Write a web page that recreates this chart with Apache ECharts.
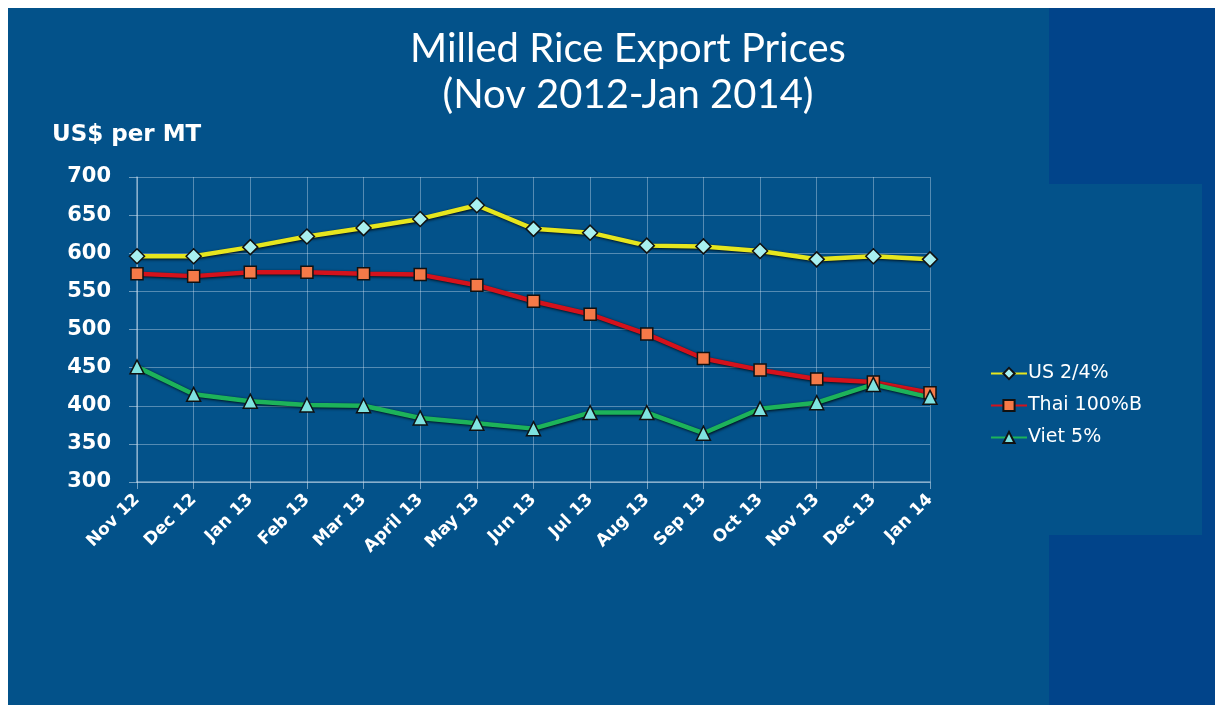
<!DOCTYPE html>
<html><head><meta charset="utf-8">
<script src="https://cdn.jsdelivr.net/npm/echarts@6/dist/echarts.min.js"></script>
<style>html,body{margin:0;padding:0;background:#fff;}#c{width:1215px;height:706px;}</style>
</head><body><div id="c"></div>
<script>
const categories = ['Nov 12','Dec 12','Jan 13','Feb 13','Mar 13','April 13','May 13','Jun 13','Jul 13','Aug 13','Sep 13','Oct 13','Nov 13','Dec 13','Jan 14'];
const us24 = [596,596,608,622,633,645,663,632,627,610,609,603,592,596,592];
const thai100B = [573,570,575,575,573,572,558,537,520,494,462,447,435,431,417];
const viet5 = [451,415,406,401,400,384,377,370,391,391,364,396,404,428,411];
const yTicks = {min:300, max:700, interval:50};

const chart = echarts.init(document.getElementById('c'));
const BG = '#03528A', DARK = '#01448A';
const lineShadow = {shadowColor:'rgba(0,0,0,0.85)', shadowBlur:3, shadowOffsetX:1, shadowOffsetY:1};
function series(name, data, color, symbol, symColor, size){
  return {name, type:'line', data, symbol, symbolSize:size,
    lineStyle:Object.assign({color, width:4.5}, lineShadow),
    itemStyle:{color:symColor, borderColor:'#111', borderWidth:1.5},
    emphasis:{disabled:true}, z:3};
}
chart.setOption({
  backgroundColor:'#ffffff',
  animation:false,
  graphic:[
    {type:'rect', shape:{x:8,y:8,width:1207,height:697}, style:{fill:BG}, z:-10, silent:true},
    {type:'rect', shape:{x:1049,y:8,width:166,height:176}, style:{fill:DARK}, z:-9, silent:true},
    {type:'rect', shape:{x:1049,y:535,width:166,height:170}, style:{fill:DARK}, z:-9, silent:true},
    {type:'rect', shape:{x:1202,y:184,width:13,height:351}, style:{fill:DARK}, z:-9, silent:true},
    {type:'text', x:628, y:29, style:{text:'Milled Rice Export Prices', fill:'#ffffff', font:'40px Lato', textAlign:'center'}},
    {type:'text', x:628, y:75, style:{text:'(Nov 2012-Jan 2014)', fill:'#ffffff', font:'40px Lato', textAlign:'center'}},
    {type:'text', x:52, y:124, style:{text:'US$ per MT', fill:'#ffffff', font:'bold 23px "DejaVu Sans"'}}
  ],
  grid:{left:137, right:285, top:177, bottom:224},
  legend:{
    orient:'vertical', left:985, top:359, itemGap:13, itemWidth:36, itemHeight:14,
    textStyle:{color:'#ffffff', fontSize:19, fontFamily:'DejaVu Sans', padding:[0,0,0,-4]},
    data:['US 2/4%','Thai 100%B','Viet 5%']
  },
  xAxis:{
    type:'category', data:categories, boundaryGap:false,
    axisLine:{lineStyle:{color:'rgba(210,225,240,0.55)', width:1.5}},
    axisTick:{show:true, length:7, alignWithLabel:true, lineStyle:{color:'rgba(210,225,240,0.55)'}},
    splitLine:{show:true, lineStyle:{color:'rgba(210,225,240,0.4)', width:1}},
    axisLabel:{color:'#ffffff', rotate:45, fontSize:17, fontWeight:'bold', fontFamily:'DejaVu Sans', margin:15, interval:0}
  },
  yAxis:{
    type:'value', min:yTicks.min, max:yTicks.max, interval:yTicks.interval,
    axisLine:{show:true, lineStyle:{color:'rgba(210,225,240,0.55)', width:1.5}},
    axisTick:{show:true, length:8, lineStyle:{color:'rgba(210,225,240,0.55)'}},
    splitLine:{show:true, lineStyle:{color:'rgba(210,225,240,0.4)', width:1}},
    axisLabel:{color:'#ffffff', fontSize:21, fontWeight:'bold', fontFamily:'DejaVu Sans', margin:26}
  },
  series:[
    series('US 2/4%', us24, '#E6E61E', 'diamond', '#A8F0F0', 15),
    series('Thai 100%B', thai100B, '#D4121C', 'rect', '#F57A48', 12),
    series('Viet 5%', viet5, '#1DB35A', 'triangle', '#7FE3E0', 14)
  ]
});
</script></body></html>
